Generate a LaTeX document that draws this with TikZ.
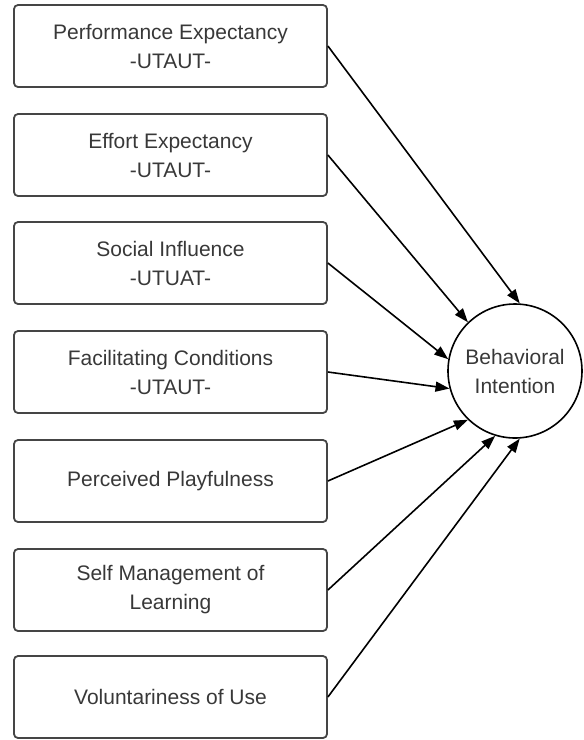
\documentclass[tikz,border=0pt]{standalone}
\usepackage{fontspec}
\setmainfont{Liberation Sans}
\usetikzlibrary{arrows.meta}
\definecolor{boxline}{HTML}{454545}
\definecolor{boxtext}{HTML}{383838}

\begin{document}
\begin{tikzpicture}[x=1pt, y=-1pt, font=\fontsize{21}{29}\selectfont,
		box/.style={draw=boxline, line width=1.8pt, rounded corners=4pt, minimum width=313pt, minimum height=82pt, inner sep=0pt, align=center, text=boxtext},
		arr/.style={line width=1.6pt, -{Triangle[length=14pt, width=10pt]}}]
		\useasboundingbox (0,0) rectangle (584,740);

		\node[box] (pe) at (170.5, 46) {Performance Expectancy\\-UTAUT-};
		\node[box] (ee) at (170.5, 155) {Effort Expectancy\\-UTAUT-};
		\node[box] (si) at (170.5, 263) {Social Influence\\-UTUAT-};
		\node[box] (fc) at (170.5, 372) {Facilitating Conditions\\-UTAUT-};
		\node[box] (pp) at (170.5, 481) {Perceived Playfulness};
		\node[box] (sml) at (170.5, 590) {Self Management of\\Learning};
		\node[box] (vu) at (170.5, 697) {Voluntariness of Use};
		\node[draw, circle, line width=1.6pt, minimum size=134pt, inner sep=0pt, align=center, text=boxtext] (bi) at (515, 371) {Behavioral\\Intention};


		\path (pe.east) edge[arr] (bi.86);
		\path (ee.east) edge[arr] (bi.134);
		\path (si.east) edge[arr] (bi.170);
		\path (fc.east) edge[arr] (bi.195);
		\path (pp.east) edge[arr] (bi.226);
		\path (sml.east) edge[arr] (bi.253);
		\path (vu.east) edge[arr] (bi.274);
	\end{tikzpicture}
\end{document}
